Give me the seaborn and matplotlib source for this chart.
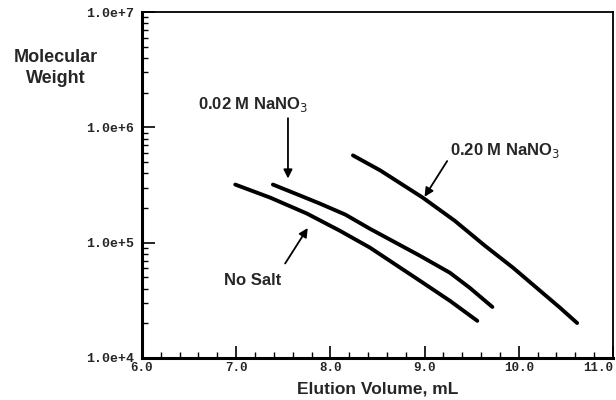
import matplotlib
matplotlib.use("Agg")
import matplotlib.pyplot as plt
import matplotlib.ticker as mticker
import numpy as np
import pandas as pd
import seaborn as sns

# ---- data ----
nosalt_x = [6.99, 7.36, 7.75, 8.10, 8.42, 8.95, 9.27, 9.56]
nosalt_y = [3.19e5, 2.46e5, 1.79e5, 1.27e5, 9.06e4, 4.68e4, 3.13e4, 2.10e4]

m002_x = [7.39, 7.68, 7.89, 8.16, 8.42, 8.95, 9.27, 9.48, 9.72]
m002_y = [3.19e5, 2.56e5, 2.18e5, 1.75e5, 1.32e5, 7.71e4, 5.48e4, 4.06e4, 2.77e4]

m020_x = [8.24, 8.53, 8.98, 9.32, 9.64, 9.94, 10.19, 10.44, 10.62]
m020_y = [5.71e5, 4.23e5, 2.46e5, 1.55e5, 9.42e4, 6.06e4, 4.06e4, 2.72e4, 2.01e4]

x_ticks = [6.0, 7.0, 8.0, 9.0, 10.0, 11.0]
y_ticks = [1e4, 1e5, 1e6, 1e7]
y_tick_labels = ["1.0e+4", "1.0e+5", "1.0e+6", "1.0e+7"]

df = pd.concat([
    pd.DataFrame({"x": nosalt_x, "y": nosalt_y, "s": "No Salt"}),
    pd.DataFrame({"x": m002_x, "y": m002_y, "s": "0.02 M"}),
    pd.DataFrame({"x": m020_x, "y": m020_y, "s": "0.20 M"}),
])

sns.set_style("ticks")
plt.rcParams['font.family'] = ['Liberation Sans', 'DejaVu Sans']

fig = plt.figure(figsize=(6.16, 4.0), dpi=100)
ax = fig.add_axes([0.2305, 0.105, 0.7645, 0.865])

sns.lineplot(data=df, x="x", y="y", units="s", estimator=None, color="black",
             linewidth=2.8, ax=ax, legend=False, sort=False)

ax.set_yscale("log")
ax.set_xlim(6.0, 11.0)
ax.set_ylim(1e4, 1e7)
ax.set_xticks(x_ticks)
xl = ax.set_xticklabels([f"{v:.1f}" for v in x_ticks], family="Liberation Mono",
                        fontweight="bold", fontsize=9)
xl[-1].set_ha("right")
xl[-1].set_x(11.0)
ax.xaxis.set_minor_locator(mticker.MultipleLocator(0.2))
ax.set_yticks(y_ticks)
ax.set_yticklabels(y_tick_labels, family="Liberation Mono", fontweight="bold",
                   fontsize=9.5)
ax.yaxis.set_minor_locator(mticker.LogLocator(base=10, subs=np.arange(2, 10)))
ax.yaxis.set_minor_formatter(mticker.NullFormatter())

ax.tick_params(which="both", direction="in", top=False, right=False, color="black")
ax.tick_params(axis="y", which="major", length=9, width=1.2, pad=6)
ax.tick_params(axis="x", which="major", length=9, width=1.2, pad=3)
ax.tick_params(which="minor", length=4.5, width=1.0)
for sp in ax.spines.values():
    sp.set_color("black")
ax.spines["left"].set_linewidth(2.2)
ax.spines["bottom"].set_linewidth(2.2)
ax.spines["top"].set_linewidth(1.3)
ax.spines["right"].set_linewidth(1.3)

ax.set_xlabel("Elution Volume, mL", fontsize=12.5, fontweight="bold", labelpad=5)
ax.set_ylabel("")
fig.text(0.091, 0.83, "Molecular\nWeight", ha="center", va="center",
         fontsize=13, fontweight="bold", linespacing=1.25)

arrow = dict(arrowstyle="-|>", color="black", lw=1.3, mutation_scale=13,
             shrinkA=0, shrinkB=0)
# 0.02 M NaNO3
ax.text(7.18, 1.3e6, "0.02 M NaNO$_3$", ha="center", va="bottom",
        fontsize=12, fontweight="bold")
ax.annotate("", xy=(7.55, 3.6e5), xytext=(7.55, 1.2e6), arrowprops=arrow)
# 0.20 M NaNO3
ax.text(9.27, 6.3e5, "0.20 M NaNO$_3$", ha="left", va="center",
        fontsize=12, fontweight="bold")
ax.annotate("", xy=(9.0, 2.5e5), xytext=(9.24, 5.1e5), arrowprops=arrow)
# No Salt
ax.text(7.17, 5.5e4, "No Salt", ha="center", va="top",
        fontsize=12, fontweight="bold")
ax.annotate("", xy=(7.76, 1.34e5), xytext=(7.52, 6.6e4), arrowprops=arrow)

fig.savefig("out.png", dpi=100)
